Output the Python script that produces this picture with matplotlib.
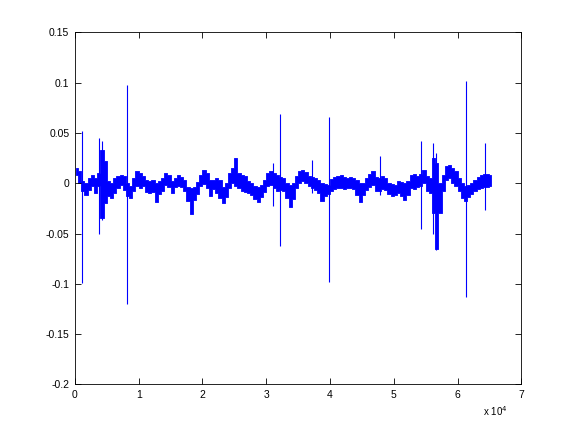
import numpy as np
import matplotlib
matplotlib.use('Agg')
import matplotlib.pyplot as plt

# signal in bins of 500 samples (values in 1e-2 units)
bin_step = 500
band_hi = [1.5, 1.2, 0.2, 0.0, 0.5, 0.8, 0.5, 1.0, 3.3, 2.2,
           0.2, 0.0, 0.5, 0.7, 0.8, 0.7, 0.0, -0.3, 0.5, 1.2,
           1.0, 0.7, 0.3, 0.2, 0.3, 0.0, 0.2, 0.5, 1.0, 0.8,
           0.2, 0.5, 0.8, 0.6, 0.3, -0.4, -0.5, -0.4, 0.1, 0.8,
           1.3, 1.0, 0.3, 0.3, 0.5, 0.3, -0.4, 0.0, 1.0, 1.5,
           2.5, 1.0, 0.8, 0.7, 0.2, 0.0, -0.3, -0.4, -0.2, 0.3,
           1.0, 1.2, 1.0, 0.8, 0.6, 0.5, 0.0, -0.2, 0.0, 0.7,
           1.2, 1.3, 1.1, 0.7, 0.6, 0.5, 0.3, 0.0, -0.1, -0.2,
           0.4, 0.6, 0.7, 0.8, 0.6, 0.5, 0.6, 0.5, 0.3, 0.0,
           0.0, 0.5, 0.9, 1.2, 0.6, 0.5, 0.7, 0.5, 0.0, -0.1,
           -0.2, 0.2, 0.1, 0.0, 0.2, 0.8, 0.9, 0.7, 0.9, 1.3,
           0.7, 0.5, 2.5, 2.0, 0.0, 0.8, 1.7, 1.8, 1.5, 1.2,
           0.5, 0.0, -0.3, -0.2, 0.0, 0.3, 0.6, 0.8, 0.9, 0.9,
           0.8]
band_lo = [0.8, 0.0, -0.8, -1.2, -0.7, -0.3, -1.0, -0.3, -3.5, -2.0,
           -1.3, -1.5, -1.0, -0.5, -0.2, -0.7, -1.3, -1.5, -0.8, -0.3,
           -0.5, -0.3, -0.9, -1.0, -0.9, -1.9, -1.1, -0.8, -0.2, -0.4,
           -1.0, -0.4, -0.3, -0.4, -0.8, -1.8, -3.1, -1.7, -1.1, -0.3,
           -0.1, -0.5, -1.3, -0.6, -1.0, -1.5, -2.0, -1.4, -0.5, 0.0,
           -0.3, -0.5, -0.8, -0.9, -1.0, -1.2, -1.6, -1.9, -1.4, -0.9,
           -0.3, -0.2, -0.5, -0.8, -0.7, -0.8, -1.5, -2.4, -1.6, -0.5,
           0.0, 0.2, 0.0, -0.3, -0.5, -0.7, -1.0, -1.8, -1.3, -1.1,
           -0.8, -0.6, -0.5, -0.5, -0.6, -0.5, -0.5, -0.6, -1.2, -1.9,
           -1.2, -0.7, -0.4, -0.2, -0.8, -0.8, -0.6, -0.7, -1.1, -1.3,
           -1.2, -1.0, -1.3, -1.7, -1.2, -0.5, -0.6, -0.4, -0.3, 0.0,
           -0.8, -1.0, -3.0, -6.5, -3.0, -0.8, 0.3, 0.5, 0.0, -0.3,
           -0.8, -1.5, -1.8, -1.4, -1.1, -0.8, -0.6, -0.5, -0.4, -0.4,
           -0.3]

# isolated spikes: sample position, top, bottom
spike_x = [1150, 3760, 4310, 8200, 31130, 32200, 37220, 39890,
           47880, 54310, 56200, 56660, 61280, 64350]
spike_top = [0.052, 0.045, 0.042, 0.098, 0.020, 0.069, 0.023, 0.066,
             0.027, 0.042, 0.040, 0.030, 0.102, 0.040]
spike_bot = [-0.099, -0.050, -0.036, -0.120, -0.023, -0.062, -0.010, -0.098,
             -0.012, -0.045, -0.050, -0.066, -0.113, -0.027]

xticks = [0, 1, 2, 3, 4, 5, 6, 7]
yticks = [-0.2, -0.15, -0.1, -0.05, 0, 0.05, 0.1, 0.15]
ytick_labels = ['-0.2', '-0.15', '-0.1', '-0.05', '0', '0.05', '0.1', '0.15']

hi = np.array(band_hi) / 100.0
lo = np.array(band_lo) / 100.0
centers = np.arange(len(hi)) * bin_step + bin_step / 2

plt.rcParams['font.family'] = ['Liberation Sans', 'DejaVu Sans']
fig = plt.figure(figsize=(5.76, 4.32), dpi=100)
ax = fig.add_axes([0.13, 0.11, 0.775, 0.815])

# dense noise band: min/max envelope per bin, stepped like a pixel column
ax.fill_between(centers, lo, hi, step='mid', color='b', linewidth=0.6)
ax.vlines(spike_x, spike_bot, spike_top, color='b', linewidth=0.8)

ax.set_xlim(0, 70000)
ax.set_ylim(-0.2, 0.15)
ax.set_xticks([t * 1e4 for t in xticks])
ax.set_xticklabels([str(t) for t in xticks])
ax.set_yticks(yticks)
ax.set_yticklabels(ytick_labels)
ax.tick_params(direction='in', top=True, right=True, length=4, width=0.6,
               labelsize=7.5, pad=4)
for s in ax.spines.values():
    s.set_linewidth(0.6)
ax.text(0.97, -0.075, r'x 10$^{4}$', transform=ax.transAxes,
        ha='right', va='center', fontsize=7)

fig.savefig('out.png', dpi=100)
